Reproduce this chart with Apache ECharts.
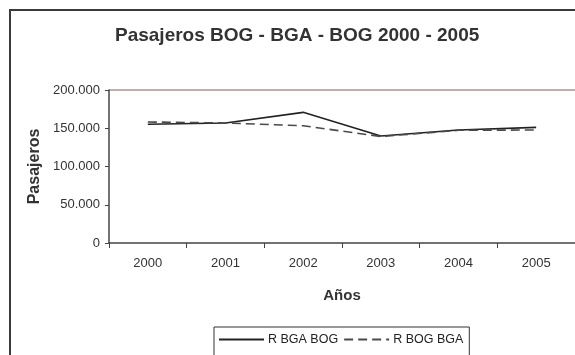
<!DOCTYPE html>
<html>
<head>
<meta charset="utf-8">
<script src="https://cdn.jsdelivr.net/npm/echarts@6/dist/echarts.min.js"></script>
<style>
html,body{margin:0;padding:0;background:#fff;overflow:hidden;}
#chart{width:575px;height:355px;}
</style>
</head>
<body>
<div id="chart"></div>
<script>
var years = ['2000', '2001', '2002', '2003', '2004', '2005'];
var rBgaBog = [155200, 156900, 170800, 139900, 147700, 151200];
var rBogBga = [158200, 156900, 153300, 139200, 147300, 147700];
var seriesNames = ['R BGA BOG', 'R BOG BGA'];
var titleText = 'Pasajeros BOG - BGA - BOG 2000 - 2005';
var yName = 'Pasajeros';
var xName = 'Años';

var FONT = "'Liberation Sans', Arial, sans-serif";
function fmt(v) {
  return String(v).replace(/\B(?=(\d{3})+(?!\d))/g, '.');
}

var chart = echarts.init(document.getElementById('chart'), null, {renderer: 'canvas'});
chart.setOption({
  animation: false,
  backgroundColor: '#ffffff',
  textStyle: {fontFamily: FONT},
  graphic: [{
    type: 'polyline',
    shape: {points: [[10, 400], [10, 10], [700, 10]]},
    style: {fill: 'none', stroke: '#3a3a3a', lineWidth: 2},
    silent: true,
    z: -1
  }, {
    type: 'line',
    shape: {x1: 109, y1: 90, x2: 700, y2: 90},
    style: {stroke: '#a89494', lineWidth: 1.5},
    silent: true,
    z: -1
  }],
  title: {
    text: titleText,
    left: 115,
    top: 26,
    padding: 0,
    textStyle: {fontFamily: FONT, fontSize: 19, fontWeight: 'bold', color: '#333333'}
  },
  legend: {
    data: seriesNames,
    left: 214,
    top: 327,
    padding: [6, 6, 30, 4],
    itemGap: 5,
    itemWidth: 45,
    itemHeight: 14,
    borderColor: '#333333',
    borderWidth: 1,
    borderRadius: 0,
    itemStyle: {opacity: 0},
    textStyle: {fontFamily: FONT, fontSize: 12.5, color: '#222222', padding: [0, 0, 0, -1]}
  },
  grid: {
    left: 109,
    right: 0,
    top: 90,
    bottom: 112,
    show: false
  },
  xAxis: {
    type: 'category',
    data: years,
    boundaryGap: true,
    name: xName,
    nameLocation: 'middle',
    nameGap: 45,
    nameTextStyle: {fontFamily: FONT, fontSize: 15, fontWeight: 'bold', color: '#333333'},
    axisLine: {show: true, lineStyle: {color: '#444444', width: 1.5}},
    axisTick: {show: true, length: 5, lineStyle: {color: '#444444', width: 1}},
    axisLabel: {fontFamily: FONT, fontSize: 13, color: '#333333', margin: 14},
    splitLine: {show: false}
  },
  yAxis: {
    type: 'value',
    min: 0,
    max: 200000,
    interval: 50000,
    name: yName,
    nameLocation: 'middle',
    nameRotate: 90,
    nameGap: 56,
    nameTextStyle: {fontFamily: FONT, fontSize: 16, fontWeight: 'bold', color: '#333333'},
    axisLine: {show: true, lineStyle: {color: '#444444', width: 1.5}},
    axisTick: {show: true, length: 4, lineStyle: {color: '#444444', width: 1}},
    axisLabel: {fontFamily: FONT, fontSize: 13, color: '#333333', margin: 9, formatter: fmt},
    splitLine: {show: false}
  },
  series: [{
    name: seriesNames[0],
    type: 'line',
    data: rBgaBog,
    symbol: 'none',
    lineStyle: {color: '#222222', width: 1.6, type: 'solid'},
    itemStyle: {color: '#222222'}
  }, {
    name: seriesNames[1],
    type: 'line',
    data: rBogBga,
    symbol: 'none',
    lineStyle: {color: '#4a4a4a', width: 1.6, type: [9, 5]},
    itemStyle: {color: '#4a4a4a'}
  }]
});
</script>
</body>
</html>
